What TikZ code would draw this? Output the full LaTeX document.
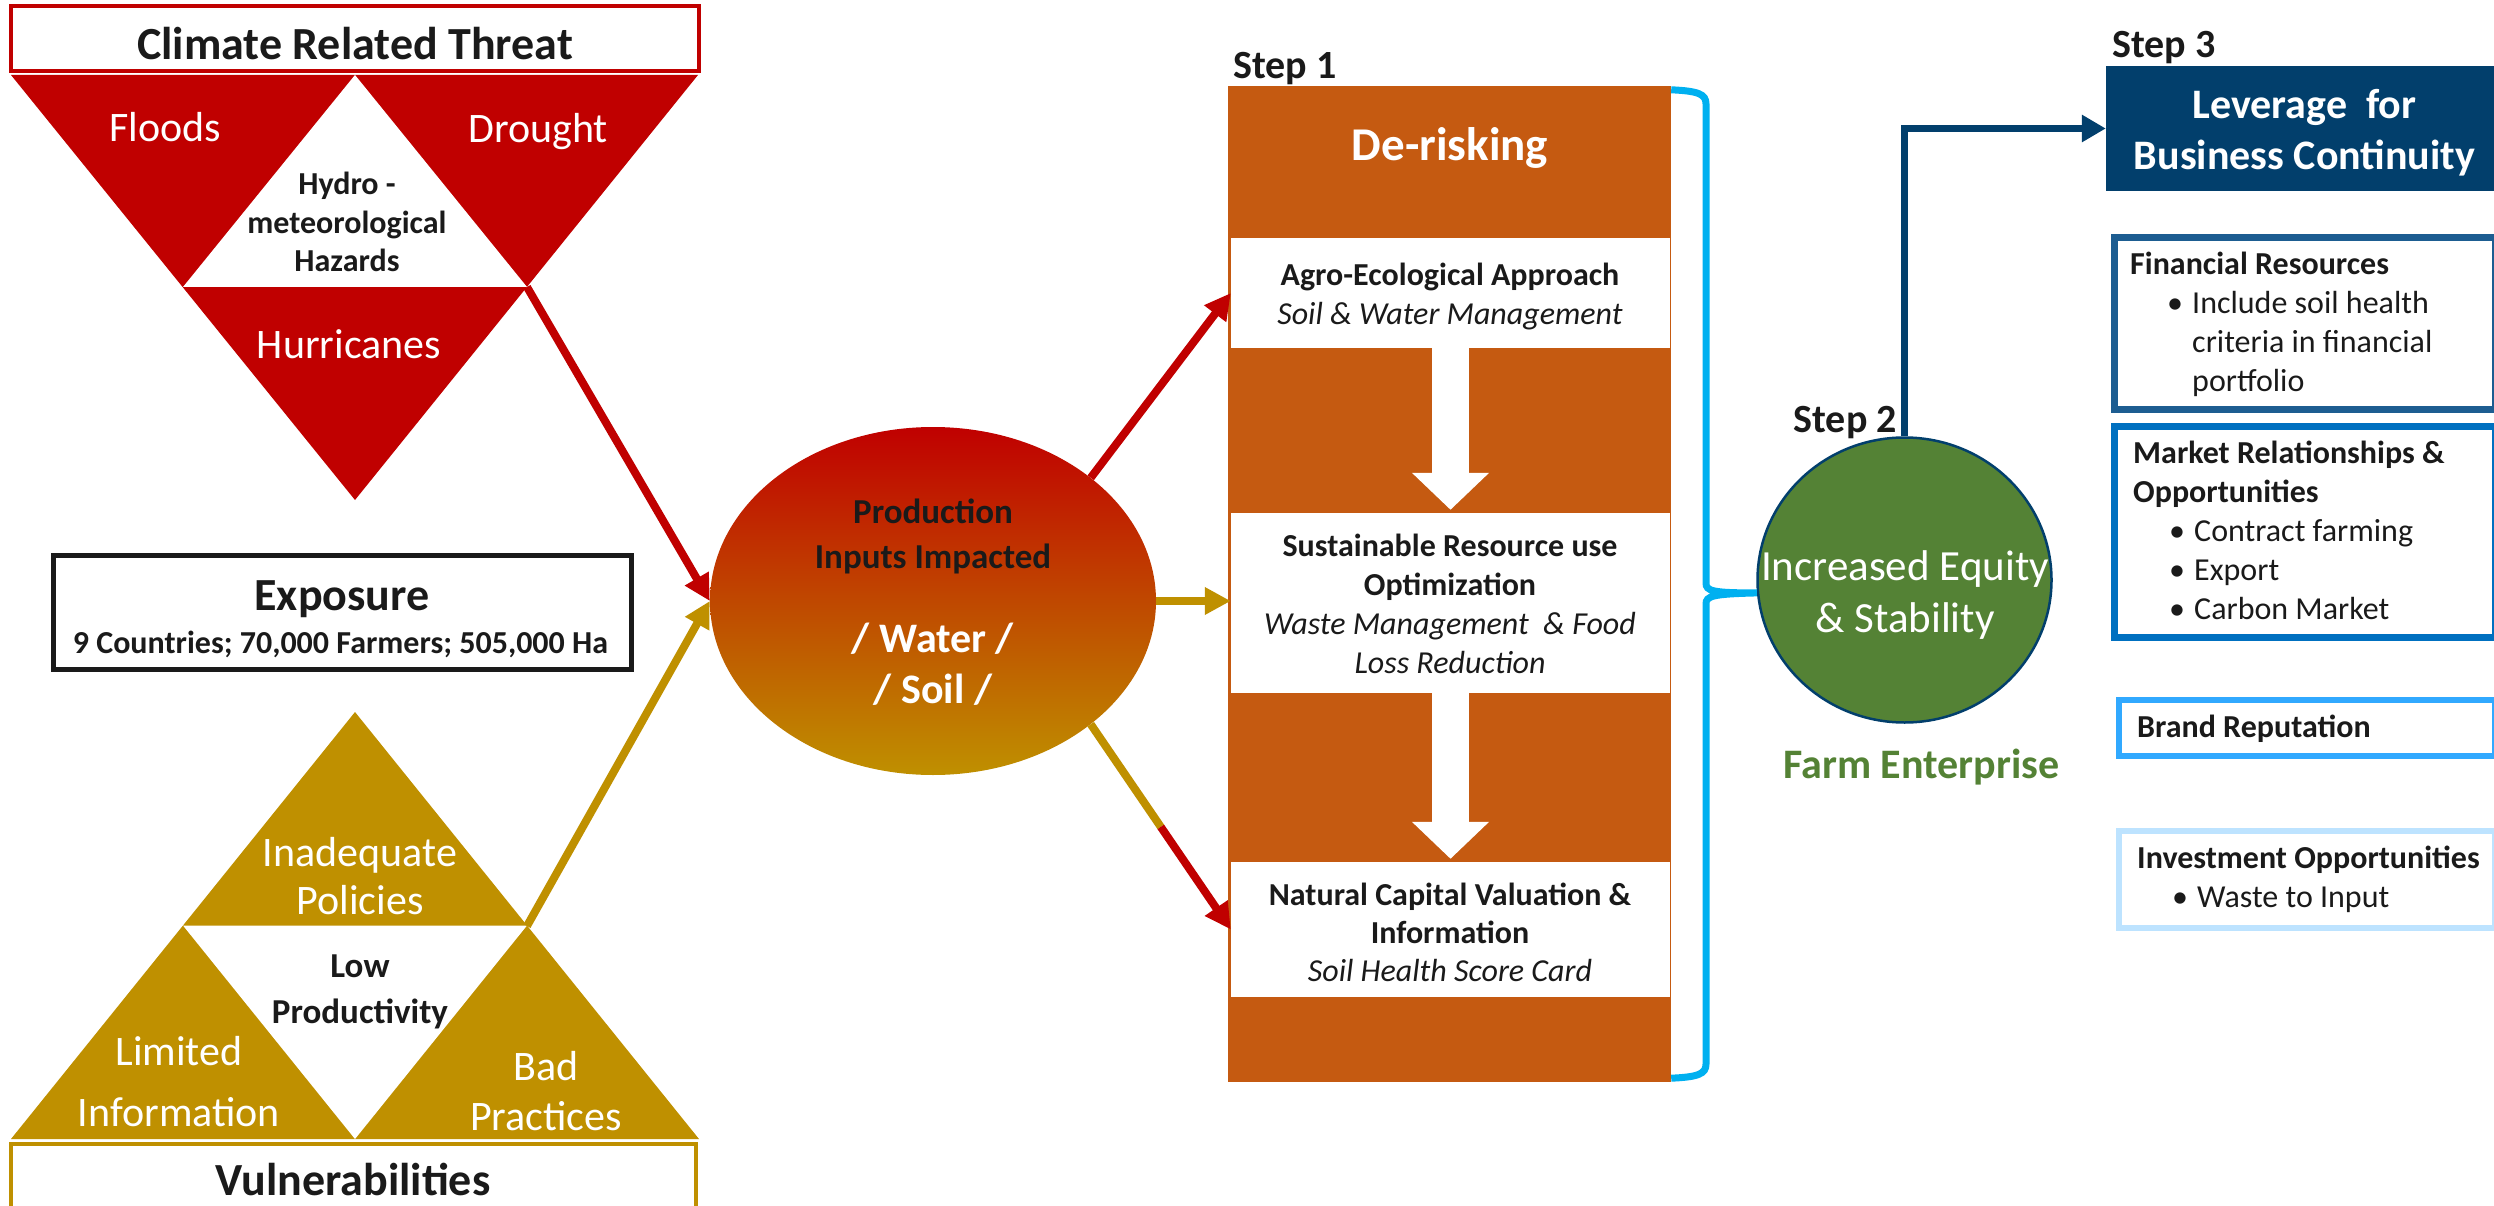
\documentclass[tikz,border=0pt]{standalone}
\usepackage{fontspec}
\setmainfont{Carlito}
\usetikzlibrary{shapes.geometric,arrows.meta,calc}
\definecolor{threatRed}{HTML}{C00000}
\definecolor{vulnGold}{HTML}{BF9000}
\definecolor{deriskOrange}{HTML}{C55A11}
\definecolor{braceBlue}{HTML}{00B0F0}
\definecolor{equityGreen}{HTML}{548235}
\definecolor{leverageNavy}{HTML}{023F6C}
\definecolor{financeBlue}{HTML}{1D5D91}
\definecolor{marketBlue}{HTML}{0070C0}
\definecolor{brandBlue}{HTML}{31A9FF}
\definecolor{investBlue}{HTML}{BDE3FF}
\definecolor{inkDark}{HTML}{1A1A1A}
\newcommand{\setpx}[2]{\fontsize{#1}{#2}\selectfont}
\newcommand{\panelbullet}{\makebox[25pt][l]{\textbullet}}

\begin{document}
\begin{tikzpicture}[x=1pt,y=-1pt,
    txt/.style={inner sep=0pt,anchor=base,align=center,text=inkDark},
    paneltxt/.style={inner sep=0pt,anchor=base west,align=left,text=inkDark,font=\setpx{32}{39}},
    flow/.style={line width=8pt,-{Triangle[length=26pt,width=26pt]}},
    panel/.style={anchor=north west,inner sep=0pt,line width=7pt}]
\useasboundingbox (0,0) rectangle (2494,1206);

% climate related threat
\fill[threatRed] (11,75) -- (698,75) -- (355,500) -- cycle;
\fill[white] (355,75) -- (527,287) -- (183,287) -- cycle;
\node[draw=threatRed,line width=4pt,minimum width=688pt,minimum height=65pt,inner sep=0pt] (threat) at (355,38.5) {};
\node[txt,font=\bfseries\setpx{46}{55}] (threatText) at (355,60) {Climate Related Threat};
\node[txt,text=white,font=\setpx{42}{50}] (floods) at (165,142) {Floods};
\node[txt,text=white,font=\setpx{42}{50}] (drought) at (538,143) {Drought};
\node[txt,text=white,font=\setpx{42}{50}] (hurricanes) at (349,358) {Hurricanes};
\node[txt,font=\bfseries\setpx{32}{38.5}] (hazards) at (347,272) {Hydro -\\meteorological\\Hazards};
\coordinate (hazardTip) at (527,287);

% exposure
\node[draw=inkDark,line width=5pt,minimum width=578pt,minimum height=114pt,inner sep=0pt] (exposure) at (342.5,612.5) {};
\node[txt,font=\bfseries\setpx{46}{55}] (exposureText) at (342,610) {Exposure};
\node[txt,font=\bfseries\setpx{32}{38}] (exposureData) at (340.5,653) {9 Countries; 70,000 Farmers; 505,000 Ha};

% vulnerabilities
\fill[vulnGold] (355,712) -- (699,1139) -- (11,1139) -- cycle;
\fill[white] (183,925.5) -- (527,925.5) -- (355,1139) -- cycle;
\node[draw=vulnGold,line width=4pt,minimum width=685pt,minimum height=80pt,inner sep=0pt] (vuln) at (353.5,1184) {};
\node[txt,font=\bfseries\setpx{46}{55}] (vulnText) at (353,1195) {Vulnerabilities};
\node[txt,text=white,font=\setpx{42}{48}] (policies) at (360,914) {Inadequate\\Policies};
\node[txt,font=\bfseries\setpx{35}{46}] (lowProd) at (360,1023) {Low\\Productivity};
\node[txt,text=white,font=\setpx{42}{61}] (information) at (179,1126) {Limited\\Information};
\node[txt,text=white,font=\setpx{42}{50}] (practices) at (546,1130) {Bad\\Practices};
\coordinate (vulnTip) at (527,926);

% production inputs
\node[ellipse,minimum width=446pt,minimum height=348pt,inner sep=0pt,top color=threatRed,bottom color=vulnGold] (inputs) at (933,601) {};
\node[txt,font=\bfseries\setpx{35}{45}] (inputsText) at (933,568) {Production\\Inputs Impacted};
\node[txt,text=white,font=\bfseries\setpx{42}{51}] (waterSoil) at (933,703) {/ Water /\\/ Soil /};
\draw[flow,threatRed] (hazardTip) -- (inputs.west);
\draw[flow,vulnGold] (vulnTip) -- (inputs.west);

% step 1
\node[anchor=base west,inner sep=0pt,text=inkDark,font=\bfseries\setpx{40}{48}] (step1) at (1233,79) {Step 1};
\node[fill=deriskOrange,minimum width=443pt,minimum height=996pt,inner sep=0pt] (derisk) at (1449.5,584) {};
\node[txt,text=white,font=\bfseries\setpx{47}{56}] (deriskText) at (1450,161) {De-risking};
\node[fill=white,minimum width=439pt,minimum height=110pt,inner sep=0pt] (agro) at (1450.5,293) {};
\node[fill=white,minimum width=439pt,minimum height=180pt,inner sep=0pt] (resource) at (1450.5,603) {};
\node[fill=white,minimum width=439pt,minimum height=135pt,inner sep=0pt] (capital) at (1450.5,929.5) {};
\node[txt,font=\setpx{32}{38.5}] (agroText) at (1450,324) {\textbf{Agro-Ecological Approach}\\\textit{Soil \& Water Management}};
\node[txt,font=\setpx{32}{38.7}] (resourceText) at (1450,673) {\textbf{Sustainable Resource use}\\\textbf{Optimization}\\\textit{Waste Management~~\& Food}\\\textit{Loss Reduction}};
\node[txt,font=\setpx{32}{38}] (capitalText) at (1450,981) {\textbf{Natural Capital Valuation \&}\\\textbf{Information}\\\textit{Soil Health Score Card}};
\foreach \a/\b in {agro/resource,resource/capital}
  \draw[white,line width=37pt,-{Triangle[length=37pt,width=75pt]}] (\a.south) -- ([yshift=3pt]\b.north);
\draw[flow,threatRed] (inputs.38) -- (agro.west);
\draw[flow,vulnGold] (inputs.east) -- (inputs.east -| resource.west);
\draw[line width=8pt,vulnGold] (inputs.-38) -- ($(inputs.-38)!0.5!(capital.west)$) coordinate (mixPoint);
\draw[flow,threatRed] (mixPoint) -- (capital.west);

% step 2
\node[ellipse,fill=equityGreen,draw=leverageNavy,line width=2.5pt,minimum width=294pt,minimum height=285pt,inner sep=0pt] (equity) at (1904.5,580) {};
\node[txt,text=white,font=\setpx{43}{52}] (equityText) at (1905,632) {Increased Equity\\\& Stability};
\node[anchor=base east,inner sep=0pt,text=inkDark,font=\bfseries\setpx{40}{48}] (step2) at (1897,432) {Step 2};
\node[txt,text=equityGreen,font=\bfseries\setpx{42}{50}] (farm) at (1921.5,778) {Farm Enterprise};
\draw[braceBlue,line width=7pt]
  ([yshift=-4pt]derisk.north east) .. controls (1698,91) and (1706,94) .. (1706,104)
  -- (1706,583) .. controls (1706,591) and (1712,593) .. (equity.185)
  .. controls (1712,594) and (1706,596) .. (1706,604)
  -- (1706,1064) .. controls (1706,1074) and (1698,1077) .. ([yshift=4pt]derisk.south east);

% step 3
\node[anchor=base west,inner sep=0pt,text=inkDark,font=\bfseries\setpx{40}{48}] (step3) at (2112,58) {Step 3};
\node[fill=leverageNavy,minimum width=397pt,minimum height=125pt,inner sep=0pt] (leverage) at (2304.5,128.5) {};
\node[txt,text=white,font=\bfseries\setpx{42}{51}] (leverageText) at (2304.5,170) {Leverage~~for\\Business Continuity};
\draw[leverageNavy,line width=7pt,-{Triangle[length=24pt,width=26pt]}] (equity.north) |- (leverage.west);

\node[panel,draw=financeBlue,minimum width=381pt,minimum height=171pt] (finance) at (2110.5,234.5) {};
\node[panel,draw=marketBlue,minimum width=381pt,minimum height=211pt] (market) at (2110.5,422.5) {};
\node[panel,draw=brandBlue,line width=6pt,minimum width=376pt,minimum height=56pt] (brand) at (2116,697) {};
\node[panel,draw=investBlue,line width=6pt,minimum width=376pt,minimum height=97pt] (invest) at (2116,828) {};
\node[paneltxt] (financeText) at (2130,391) {\textbf{Financial Resources}\\\hspace*{37pt}\panelbullet Include soil health\\\hspace*{62pt}criteria in financial\\\hspace*{62pt}portfolio};
\node[paneltxt] (marketText) at (2133,619) {\textbf{Market Relationships \&}\\\textbf{Opportunities}\\\hspace*{36pt}\panelbullet Contract farming\\\hspace*{36pt}\panelbullet Export\\\hspace*{36pt}\panelbullet Carbon Market};
\node[paneltxt] (brandText) at (2137,737) {\textbf{Brand Reputation}};
\node[paneltxt] (investText) at (2137,907) {\textbf{Investment Opportunities}\\\hspace*{35pt}\panelbullet Waste to Input};
\end{tikzpicture}
\end{document}
